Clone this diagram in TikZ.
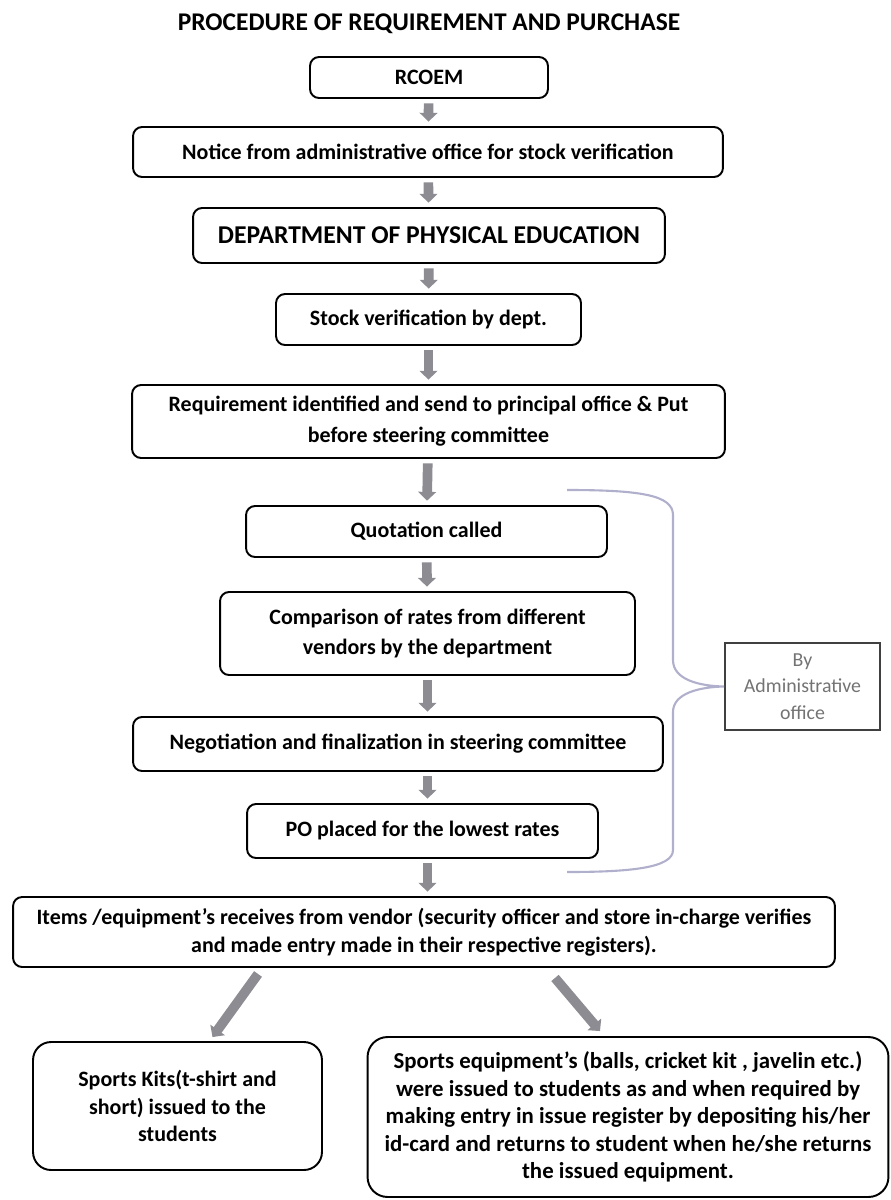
\documentclass[tikz,border=0pt]{standalone}
\usepackage{fontspec}
\setmainfont{Carlito}
\usetikzlibrary{arrows.meta,calc}

\definecolor{arrowgrey}{RGB}{140,140,146}
\definecolor{bracegrey}{RGB}{176,176,204}

\begin{document}
\begin{tikzpicture}[x=0.02cm, y=-0.02cm, thick,
    box/.style={draw, line width=1.1pt, rounded corners=0.18cm, align=center,
      font=\bfseries\fontsize{12.5}{17.6}\selectfont},
    flow/.style={draw=arrowgrey, line width=5.5pt, -{Triangle[width=10pt,length=5pt]}},
    vflow/.style={flow, shorten <=2.5pt, shorten >=2.5pt}]
      \useasboundingbox (0,0) rectangle (891,1200);

      \node at (429,24) [name=title, font=\bfseries\fontsize{14.5}{17}\selectfont]
      {PROCEDURE OF REQUIREMENT AND PURCHASE};

      \node at (429,77.5) [box, minimum width=4.76cm, minimum height=0.82cm, name=rcoem]
      {RCOEM};

      \node at (428,152) [box, minimum width=11.8cm, minimum height=1cm, name=notice]
      {Notice from administrative office for stock verification};

      \node at (429,235.5) [box, minimum width=9.44cm, minimum height=1.1cm, name=dept,
      font=\bfseries\fontsize{14.6}{17}\selectfont]
      {DEPARTMENT OF PHYSICAL EDUCATION};

      \node at (428.5,319.5) [box, minimum width=6.1cm, minimum height=1.02cm, name=stock]
      {Stock verification by dept.};

      \node at (428.5,421.5) [box, minimum width=11.86cm, minimum height=1.46cm, name=req]
      {Requirement identified and send to principal office \& Put\\ before steering committee};

      \node at (426.5,531.5) [box, minimum width=7.22cm, minimum height=1.02cm, name=quot]
      {Quotation called};

      \node at (427.5,633.5) [box, minimum width=8.3cm, minimum height=1.66cm, name=comp]
      {Comparison of rates from different\\ vendors by the department};

      \node at (398,744) [box, minimum width=10.6cm, minimum height=1.08cm, name=nego]
      {Negotiation and finalization in steering committee};

      \node at (422.5,831) [box, minimum width=7.02cm, minimum height=1.08cm, name=po]
      {PO placed for the lowest rates};

      \node at (424,932) [box, minimum width=16.44cm, minimum height=1.4cm, name=items,
      font=\bfseries\fontsize{12.5}{16}\selectfont]
      {Items /equipment's receives from vendor (security officer and store in-charge verifies\\
       and made entry made in their respective registers).};

      \node at (177.5,1106) [box, rounded corners=0.36cm, minimum width=5.78cm,
      minimum height=2.56cm, name=kits, font=\bfseries\fontsize{12.5}{15.6}\selectfont]
      {Sports Kits(t-shirt and\\ short) issued to the\\ students};

      \node at (628,1117) [box, rounded corners=0.4cm, minimum width=10.42cm,
      minimum height=3.2cm, inner xsep=2pt, name=equip,
      font=\bfseries\fontsize{13}{15.6}\selectfont]
      {Sports equipment's (balls, cricket kit , javelin etc.)\\
       were issued to students as and when required by\\
       making entry in issue register by depositing his/her\\
       id-card and returns to student when he/she returns\\
       the issued equipment.};

      \node at (802.5,686.5) [draw=black!75, line width=1.1pt, minimum width=3.1cm,
      minimum height=1.74cm, align=center, text=black!55,
      font=\fontsize{11.3}{15}\selectfont, name=byadmin]
      {By\\ Administrative\\ office};

      \draw [vflow] (rcoem) -- (notice);
      \draw [vflow] (notice) -- (dept);
      \draw [vflow] (dept) -- (stock);
      \draw [vflow] (stock) -- (req);
      \draw [vflow] (req) -- (quot);
      \draw [vflow] (quot) -- (comp);
      \draw [vflow] (comp.south) -- (comp.south |- nego.north);
      \draw [vflow] (nego.south -| comp.south) -- (po.north -| comp.south);
      \draw [vflow] (po.south -| comp.south) -- (items.north -| comp.south);

      \draw [flow] ($(items.south) + (-166, 6)$) -- ($(kits.north) + (35, -4)$);
      \draw [flow] ($(items.south) + (131, 10)$) -- ($(equip.north) + (-28, -5)$);

      % brace round quotation ... PO
      \draw [bracegrey, line width=1.2pt] (567,490) .. controls (640,490) and (673,495) .. (673,515)
        -- (673,660) .. controls (673,680) and (700,686) .. (byadmin.west)
        .. controls (700,687) and (673,693) .. (673,712)
        -- (673,850) .. controls (673,868) and (630,872) .. (567,872);
\end{tikzpicture}
\end{document}
